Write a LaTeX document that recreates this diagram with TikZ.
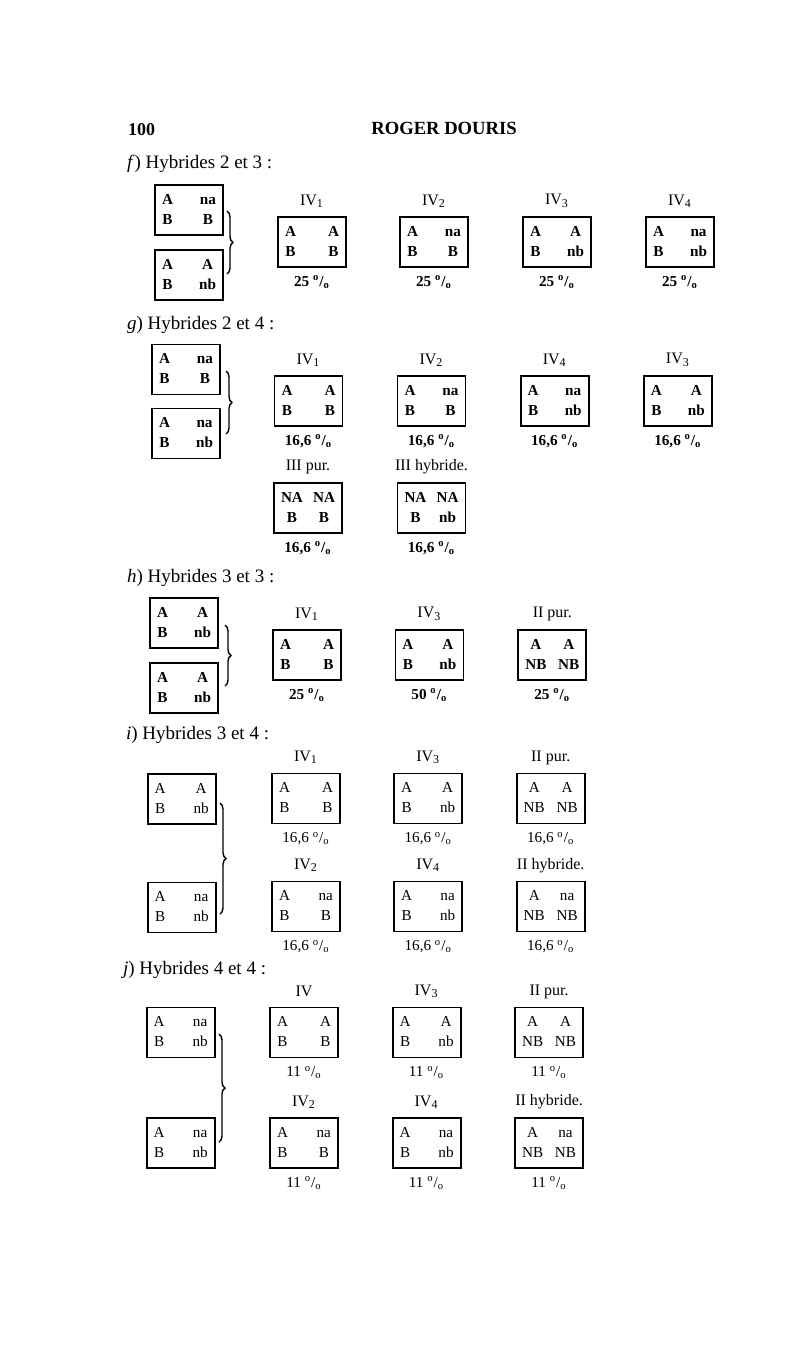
\documentclass[tikz,border=0pt]{standalone}
\usepackage{fontspec}
\setmainfont{Liberation Serif}
\usepackage{tikz}
\usetikzlibrary{decorations.pathreplacing}

\newcommand{\pc}{\textsuperscript{o}/\textsubscript{o}}
\newcommand{\cellfont}{\bfseries}
\newcommand{\genes}[4]{\begin{tabular*}{27pt}{@{}c@{\extracolsep{\fill}}c@{}}#1 & #2\\ #3 & #4\end{tabular*}}
\newcommand{\gbox}[7]{\node[genbox] (#1) at (#2,#3) {\genes{#4}{#5}{#6}{#7}};}
\newcommand{\gres}[9]{%
  \node[genbox] (#1) at (#2,#3) {\genes{#6}{#7}{#8}{#9}};
  \node[lbl] (#1l) at (#2,#3-41) {#4};
  \node[pct] (#1p) at (#2,#3+40) {#5~\pc};}

\begin{document}
\begin{tikzpicture}[x=0.5pt, y=-0.5pt,
  genbox/.style={draw, line width=0.9pt, minimum width=34pt, minimum height=25pt, inner sep=0pt, font=\fontsize{7.6}{10}\selectfont\cellfont},
  lbl/.style={font=\fontsize{8}{9}\selectfont},
  pct/.style={font=\fontsize{7.6}{9}\selectfont\cellfont},
  head/.style={anchor=west, font=\fontsize{9.5}{11}\selectfont},
  brace/.style={decorate, decoration={brace, amplitude=3pt}, line width=0.7pt}]
  \fill[white] (0,0) rectangle (800,1359);
  \useasboundingbox (0,0) rectangle (800,1359);

  \node[anchor=west, font=\fontsize{9}{10}\selectfont\bfseries] (page) at (121,130) {100};
  \node[font=\fontsize{9.3}{10}\selectfont\bfseries] (author) at (444,128) {ROGER DOURIS};

  \node[head] (hf) at (120,164) {\textit{f}) Hybrides 2 et 3 :};
  \gbox{f1}{189}{210}{A}{na}{B}{B}
  \gbox{f2}{189}{275}{A}{A}{B}{nb}
  \draw[brace] (227,211) -- (227,274);
  \gres{fa}{312}{242}{IV\textsubscript{1}}{25}{A}{A}{B}{B}
  \gres{fb}{434}{242}{IV\textsubscript{2}}{25}{A}{na}{B}{B}
  \gres{fc}{557}{242}{IV\textsubscript{3}}{25}{A}{A}{B}{nb}
  \gres{fd}{680}{242}{IV\textsubscript{4}}{25}{A}{na}{B}{nb}

  \node[head] (hg) at (120,325) {\textit{g}) Hybrides 2 et 4 :};
  \gbox{g1}{186}{369.5}{A}{na}{B}{B}
  \gbox{g2}{186}{433.5}{A}{na}{B}{nb}
  \draw[brace] (226,371) -- (226,434);
  \gres{ga}{308.5}{401}{IV\textsubscript{1}}{16,6}{A}{A}{B}{B}
  \gres{gb}{431.5}{401}{IV\textsubscript{2}}{16,6}{A}{na}{B}{B}
  \gres{gc}{554.7}{401}{IV\textsubscript{4}}{16,6}{A}{na}{B}{nb}
  \gres{gd}{677.9}{401}{IV\textsubscript{3}}{16,6}{A}{A}{B}{nb}
  \gres{ge}{308}{508}{III pur.}{16,6}{NA}{NA}{B}{B}
  \gres{gf}{431.5}{508}{III hybride.}{16,6}{NA}{NA}{B}{nb}

  \node[head] (hh) at (120,578) {\textit{h}) Hybrides 3 et 3 :};
  \gbox{h1}{184}{623}{A}{A}{B}{nb}
  \gbox{h2}{184}{688}{A}{A}{B}{nb}
  \draw[brace] (225,625) -- (225,686);
  \gres{ha}{307}{655}{IV\textsubscript{1}}{25}{A}{A}{B}{B}
  \gres{hb}{429.4}{655}{IV\textsubscript{3}}{50}{A}{A}{B}{nb}
  \gres{hc}{552.3}{655}{II pur.}{25}{A}{A}{NB}{NB}

  \renewcommand{\cellfont}{\mdseries}
  \node[head] (hi) at (119,735) {\textit{i}) Hybrides 3 et 4 :};
  \gbox{i1}{181.7}{799}{A}{A}{B}{nb}
  \gbox{i2}{181.7}{907.5}{A}{na}{B}{nb}
  \draw[brace] (220,803) -- (220,914);
  \gres{ia}{306}{798.5}{IV\textsubscript{1}}{16,6}{A}{A}{B}{B}
  \gres{ib}{428.2}{798.5}{IV\textsubscript{3}}{16,6}{A}{A}{B}{nb}
  \gres{ic}{550.7}{798.5}{II pur.}{16,6}{A}{A}{NB}{NB}
  \gres{id}{306}{906.5}{IV\textsubscript{2}}{16,6}{A}{na}{B}{B}
  \gres{ie}{428.2}{906.5}{IV\textsubscript{4}}{16,6}{A}{na}{B}{nb}
  \gres{ig}{550.7}{906.5}{II hybride.}{16,6}{A}{na}{NB}{NB}

  \node[head] (hj) at (116,970) {\textit{j}) Hybrides 4 et 4 :};
  \gbox{j1}{180.7}{1032.5}{A}{na}{B}{nb}
  \gbox{j2}{180.7}{1143}{A}{na}{B}{nb}
  \draw[brace] (219,1034) -- (219,1142);
  \gres{ja}{304}{1032.5}{IV}{11}{A}{A}{B}{B}
  \gres{jb}{426.6}{1032.5}{IV\textsubscript{3}}{11}{A}{A}{B}{nb}
  \gres{jc}{549.1}{1032.5}{II pur.}{11}{A}{A}{NB}{NB}
  \gres{jd}{304}{1143}{IV\textsubscript{2}}{11}{A}{na}{B}{B}
  \gres{je}{426.6}{1143}{IV\textsubscript{4}}{11}{A}{na}{B}{nb}
  \gres{jf}{549.1}{1143}{II hybride.}{11}{A}{na}{NB}{NB}
\end{tikzpicture}
\end{document}
